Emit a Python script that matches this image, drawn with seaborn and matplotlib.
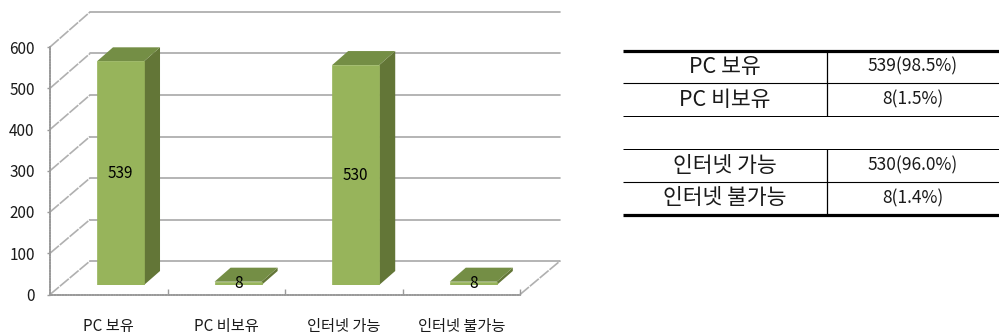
import matplotlib
matplotlib.use("Agg")
import matplotlib.pyplot as plt
import pandas as pd
import seaborn as sns
from matplotlib.patches import Polygon

categories = ["PC 보유", "PC 비보유", "인터넷 가능", "인터넷 불가능"]
counts = [539, 8, 530, 8]
y_ticks = [0, 100, 200, 300, 400, 500, 600]

table_rows_top = [("PC 보유", "539(98.5%)"), ("PC 비보유", "8(1.5%)")]
table_rows_bottom = [("인터넷 가능", "530(96.0%)"), ("인터넷 불가능", "8(1.4%)")]

FRONT = "#97B45B"
TOP = "#748E45"
SIDE = "#637637"
GRID = "#A8A8A8"
AXIS = "#9A9A9A"
TEXT = "#1A1A1A"

W, H = 999, 336
sns.set_theme(style="white")
plt.rcParams["font.family"] = ["Noto Sans CJK KR", "DejaVu Sans"]
fig = plt.figure(figsize=(W / 100, H / 100), dpi=100, facecolor="white")


def axes_px(x0, x1, ytop, ybot):
    return fig.add_axes([x0 / W, 1 - ybot / H, (x1 - x0) / W, (ybot - ytop) / H])


# overlay in pixel space: wall diagonals and table rules
ax_px = axes_px(0, W, 0, H)
ax_px.set_xlim(0, W)
ax_px.set_ylim(H, 0)
ax_px.axis("off")

# back wall
ax_back = axes_px(90, 560, 12, 261)
ax_back.set_xlim(0, 4)
ax_back.set_ylim(0, 600)
ax_back.set_yticks(y_ticks)
ax_back.set_xticks([])
ax_back.tick_params(left=False, labelleft=False)
ax_back.grid(axis="y", color=GRID, lw=1.2)
ax_back.patch.set_visible(False)
for s in ax_back.spines.values():
    s.set_visible(False)
for gl in ax_back.get_ygridlines():
    gl.set_clip_on(False)

# front wall: value and category axes
ax_front = axes_px(50, 520, 47, 294.5)
ax_front.set_xlim(0, 4)
ax_front.set_ylim(0, 600)
ax_front.patch.set_visible(False)
ax_front.set_yticks(y_ticks)
ax_front.set_yticklabels([str(v) for v in y_ticks], fontsize=11, color=TEXT)
ax_front.set_xticks([i + 0.5 for i in range(len(categories))])
ax_front.set_xticklabels(categories, fontsize=11, color=TEXT)
ax_front.set_xticks([i + 1 for i in range(len(categories))], minor=True)
ax_front.tick_params(axis="x", which="major", length=0, pad=17)
ax_front.tick_params(axis="x", which="minor", direction="in", length=4.5, width=1, color=AXIS, bottom=True)
ax_front.tick_params(axis="y", length=2, width=1, color=AXIS, direction="out", pad=9, left=True)
sns.despine(ax=ax_front)
for side in ("left", "bottom"):
    ax_front.spines[side].set_color(AXIS)
    ax_front.spines[side].set_linewidth(1.3)
    ax_front.spines[side].set_linestyle((0, (1, 0.5)))

# diagonals joining the front wall to the back wall
for v in y_ticks:
    yf = 294.5 - v * 247.5 / 600
    yb = 261 - v * 249 / 600
    ax_px.plot([50, 90], [yf, yb], color="#B0B0B0", lw=1.2, ls=(0, (7, 0.7)), solid_capstyle="butt")
ax_px.plot([520, 560], [294.5, 261], color="#B0B0B0", lw=1.2, ls=(0, (7, 0.7)))

# bars
ax_bar = axes_px(61.7, 532.1, 36, 285)
df = pd.DataFrame({"category": categories, "count": counts})
sns.barplot(data=df, x="category", y="count", order=categories, color=FRONT,
            saturation=1, width=0.4, ax=ax_bar, zorder=3, edgecolor=FRONT, linewidth=0.5)
ax_bar.set_xlim(-0.5, 3.5)
ax_bar.set_ylim(0, 600)
ax_bar.axis("off")

px_x = 117.6
px_y = 249 / 600
dx, dy = 16 / px_x, 14 / px_y
for p in ax_bar.patches:
    x0, w, h = p.get_x(), p.get_width(), p.get_height()
    x1 = x0 + w
    ax_bar.add_patch(Polygon([(x1, 0), (x1 + dx, dy), (x1 + dx, h + dy), (x1, h)],
                             closed=True, fc=SIDE, ec="none", zorder=2, clip_on=False))
    ax_bar.add_patch(Polygon([(x0, h), (x0 + dx, h + dy), (x1 + dx, h + dy), (x1, h)],
                             closed=True, fc=TOP, ec="none", zorder=2, clip_on=False))
for c in ax_bar.containers:
    ax_bar.bar_label(c, labels=[str(v) for v in counts], label_type="center",
                     fontsize=11, color="black", zorder=5)

# table
X0, XM, X1 = 623, 827, 999
blocks = [(50.5, 83, 116, table_rows_top, 3.2, 1.0), (149, 182, 215, table_rows_bottom, 1.0, 3.2)]
for ya, yb, yc, rows, top_lw, bot_lw in blocks:
    ax_px.plot([X0, X1], [ya, ya], color="black", lw=top_lw * 0.72, solid_capstyle="butt")
    ax_px.plot([X0, X1], [yb, yb], color="black", lw=0.8, solid_capstyle="butt")
    ax_px.plot([X0, X1], [yc, yc], color="black", lw=bot_lw * 0.72, solid_capstyle="butt")
    ax_px.plot([XM, XM], [ya, yc], color="black", lw=0.9, solid_capstyle="butt")
    for (label, value), ym in zip(rows, [(ya + yb) / 2, (yb + yc) / 2]):
        ax_px.text((X0 + XM) / 2, ym, label, ha="center", va="center", fontsize=15.5, color=TEXT)
        ax_px.text((XM + X1) / 2, ym, value, ha="center", va="center", fontsize=12.5, color=TEXT)

fig.savefig("out.png", dpi=100, facecolor="white")
